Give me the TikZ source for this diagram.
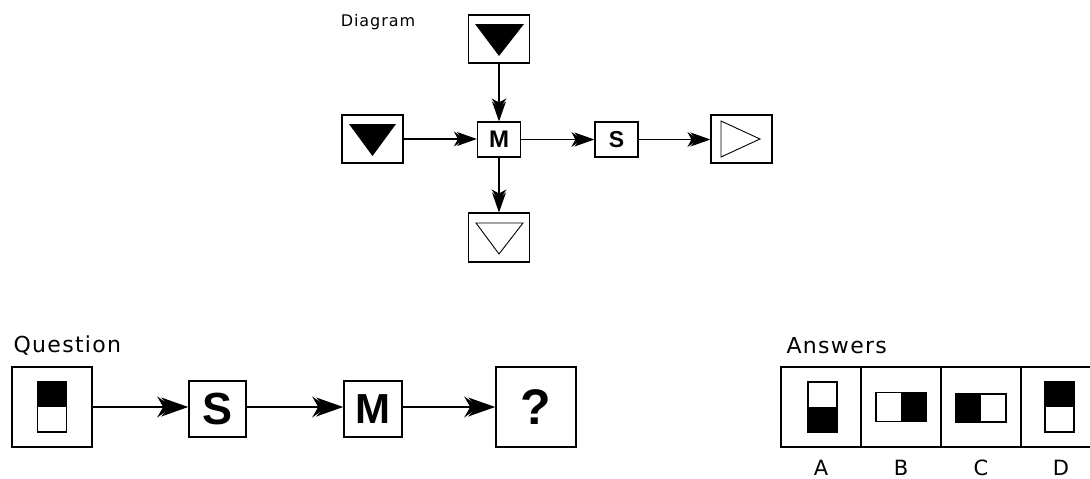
\documentclass[tikz,border=0pt]{standalone}
\usepackage{fontspec}
\setmainfont{DejaVu Sans}
\newfontfamily\lbl{DejaVu Sans}[LetterSpace=6]
\newfontfamily\bld{Liberation Sans}
\usetikzlibrary{arrows.meta}
\tikzset{
  tri/.style={draw, line width=1.1pt, inner sep=0pt, minimum width=61pt, minimum height=48pt},
  opsm/.style={draw, line width=1.2pt, inner sep=0pt, minimum width=43pt, minimum height=35pt},
  arrt/.style={line width=1.2pt, -{Stealth[length=11pt,width=15pt,inset=4pt,sep=-8pt]Stealth[length=20pt,width=14pt,inset=6pt]}},
  arrb/.style={line width=1.6pt, -{Stealth[length=15pt,width=21pt,inset=6pt,sep=-11pt]Stealth[length=27pt,width=19pt,inset=8pt]}},
  bigbox/.style={draw, line width=1.6pt, inner sep=0pt, minimum width=80pt, minimum height=80pt},
  opbox/.style={draw, line width=1.6pt, inner sep=0pt, minimum width=57pt, minimum height=56pt},
  cell/.style={draw, line width=1.6pt, inner sep=0pt, minimum width=80pt, minimum height=80pt},
  tile/.style={draw, line width=1.4pt},
  anslab/.style={font={\fontsize{21pt}{21pt}\selectfont}, anchor=base, inner sep=0pt, text depth=0pt},
}
\begin{document}
\begin{tikzpicture}[x=1pt,y=-1pt]
\useasboundingbox (0,0) rectangle (1090,479);
\clip (0,0) rectangle (1090,479);
% ---------- top diagram ----------
\node[font={\lbl\fontsize{16pt}{16pt}\selectfont}] (dlab) at (378,22) {Diagram};
\node[tri] (tb) at (499,39) {};
\node[tri] (lb) at (372.5,139) {};
\node[opsm, font={\bld\bfseries\fontsize{24pt}{24pt}\selectfont}] (m) at (499,139.5) {M};
\node[opsm, font={\bld\bfseries\fontsize{23pt}{23pt}\selectfont}] (s) at (616.5,139.5) {S};
\node[tri] (rb) at (741.5,139) {};
\node[tri, minimum height=49pt] (bb) at (499,237.5) {};
\fill ([shift={(-24,-15)}]tb.center) -- ([shift={(25,-15)}]tb.center) -- ([shift={(0,17)}]tb.center) -- cycle;
\fill ([shift={(-23.5,-15)}]lb.center) -- ([shift={(23.5,-15)}]lb.center) -- ([shift={(0,17)}]lb.center) -- cycle;
\draw[line width=0.9pt] ([shift={(-23,-14.5)}]bb.center) -- ([shift={(24,-14.5)}]bb.center) -- ([shift={(0,16.5)}]bb.center) -- cycle;
\draw[line width=0.9pt] ([shift={(-20.5,-18)}]rb.center) -- ([shift={(-20.5,18)}]rb.center) -- ([shift={(18.5,0)}]rb.center) -- cycle;
\draw[arrt] (tb.south) -- (m.north);
\draw[arrt] (lb.east) -- (lb.east -| m.west);
\draw[arrt] (m.east) -- (s.west);
\draw[arrt] (s.east) -- (s.east -| rb.west);
\draw[arrt] (m.south) -- (bb.north);
% ---------- question ----------
\node[font={\lbl\fontsize{22pt}{22pt}\selectfont}, anchor=west] (qlab) at (10,346) {Question};
\node[bigbox] (q1) at (52,407) {};
\node[opbox, font={\bld\bfseries\fontsize{45pt}{45pt}\selectfont}] (qs) at (217.5,409) {S};
\node[opbox, minimum width=58pt, font={\bld\bfseries\fontsize{42pt}{42pt}\selectfont}] (qm) at (373,409) {M};
\node[bigbox, font={\bld\bfseries\fontsize{50pt}{50pt}\selectfont}] (qq) at (536,407) {?};
\fill ([shift={(-14.5,-25)}]q1.center) rectangle ([shift={(14.5,0)}]q1.center);
\draw[tile] ([shift={(-14.5,-25)}]q1.center) rectangle ([shift={(14.5,25)}]q1.center);
\draw[arrb] (q1.east) -- (q1.east -| qs.west);
\draw[arrb] (q1.east -| qs.east) -- (q1.east -| qm.west);
\draw[arrb] (q1.east -| qm.east) -- (qq.west);
% ---------- answers ----------
\node[font={\lbl\fontsize{22pt}{22pt}\selectfont}, anchor=west] (alab) at (783,346) {Answers};
\node[cell] (a1) at (821,407) {};
\node[cell] (a2) at (901,407) {};
\node[cell] (a3) at (981,407) {};
\node[cell] (a4) at (1061,407) {};
% A: white top, black bottom
\fill ([shift={(-13,0)}]a1.center) rectangle ([shift={(16,25)}]a1.center);
\draw[tile] ([shift={(-13,-25)}]a1.center) rectangle ([shift={(16,25)}]a1.center);
% B: white left, black right
\fill ([shift={(0,-14.5)}]a2.center) rectangle ([shift={(25,14.5)}]a2.center);
\draw[tile] ([shift={(-25,-14.5)}]a2.center) rectangle ([shift={(25,14.5)}]a2.center);
% C: black left, white right
\fill ([shift={(-25,-13)}]a3.center) rectangle ([shift={(0,15)}]a3.center);
\draw[tile] ([shift={(-25,-13)}]a3.center) rectangle ([shift={(25,15)}]a3.center);
% D: black top, white bottom
\fill ([shift={(-16,-25)}]a4.center) rectangle ([shift={(13,0)}]a4.center);
\draw[tile] ([shift={(-16,-25)}]a4.center) rectangle ([shift={(13,25)}]a4.center);
\node[anslab] (la) at ([yshift=-68]a1.center) {A};
\node[anslab] (lb2) at ([yshift=-68]a2.center) {B};
\node[anslab] (lc) at ([yshift=-68]a3.center) {C};
\node[anslab] (ld) at ([yshift=-68]a4.center) {D};
\end{tikzpicture}
\end{document}
